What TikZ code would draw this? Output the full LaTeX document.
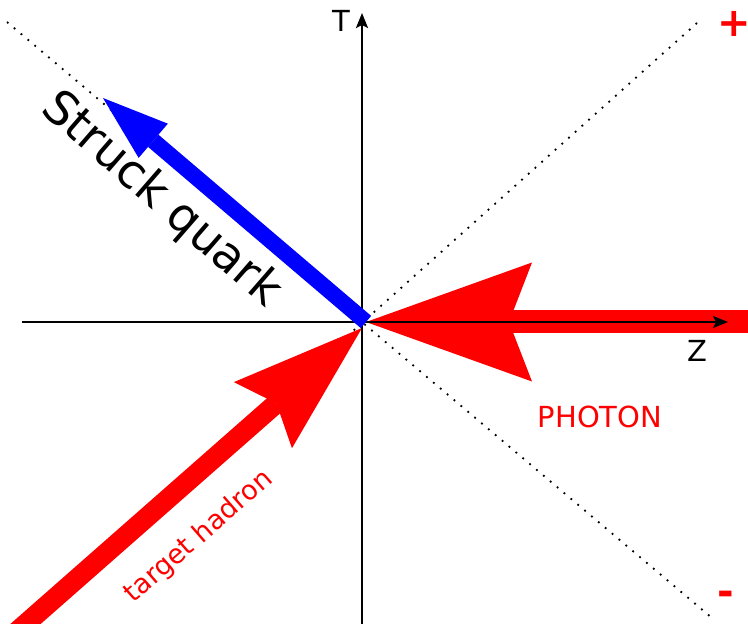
\documentclass[tikz,border=0pt]{standalone}
\usepackage{fontspec}
\setmainfont{DejaVu Sans}
\usetikzlibrary{arrows.meta,positioning}

\begin{document}
\begin{tikzpicture}[x=0.5pt,y=-0.5pt,
    axis/.style={line width=1.2pt,-{Stealth[length=7.5pt,width=6pt,inset=1.5pt]}},
    cone/.style={line width=0.9pt,dash pattern=on 0.9pt off 3.6pt},
    photon/.style={red,line width=11.5pt,-{Stealth[length=83pt,width=59.5pt,inset=11.5pt,line width=0pt]}},
    hadron/.style={red,line width=10pt,-{Stealth[length=66pt,width=44pt,inset=9pt,line width=0pt]}},
    quark/.style={blue,line width=8pt,-{Triangle[length=33pt,width=22.5pt,line width=0pt]}},
    lbl/.style={inner sep=0pt,font=\fontsize{14.5}{16}\selectfont},
    sign/.style={inner sep=0pt,red,font=\bfseries\fontsize{20}{22}\selectfont}]
  \useasboundingbox (0,0) rectangle (748,624);
  \clip (0,0) rectangle (748,624);
  \coordinate (O) at (363,322);
  \coordinate (coneA1) at (7,22);   \coordinate (coneA2) at (712,618);
  \coordinate (coneB1) at (697,23); \coordinate (coneB2) at (0,647);
  \draw[cone] (coneA1) -- (coneA2);
  \draw[cone] (coneB1) -- (coneB2);
  \coordinate (phtail) at (760,322);  \coordinate (phtip) at (366,322);
  \coordinate (hdtail) at (-20,664);  \coordinate (hdtip) at (362,328);
  \draw[photon] (phtail) -- (phtip);
  \draw[hadron] (hdtail) -- (hdtip);
  \coordinate (zl) at (22,322);  \coordinate (zr) at (728,322);
  \coordinate (tb) at (362,630); \coordinate (tt) at (362,13);
  \draw[axis] (zl) -- (zr);
  \draw[axis] (tb) -- (tt);
  \coordinate (qtail) at (366,322); \coordinate (qtip) at (103,98);
  \draw[quark] (qtail) -- (qtip);
  \node[lbl] (tlab) at (341,21) {T};
  \node[lbl] (zlab) at (697,351) {Z};
  \node[sign] (plus) at (734,24) {+};
  \node[sign] (minus) at (726,598) {-};
  \node[lbl,red] (phlab) at (600,417) {PHOTON};
  \node[inner sep=0pt,rotate=-41,font=\fontsize{23.5}{26}\selectfont] (sqlab) at (161,200) {Struck quark};
  \node[inner sep=0pt,red,rotate=41,font=\fontsize{13.5}{15}\selectfont] (hdlab) at (199,537) {target hadron};
\end{tikzpicture}
\end{document}
